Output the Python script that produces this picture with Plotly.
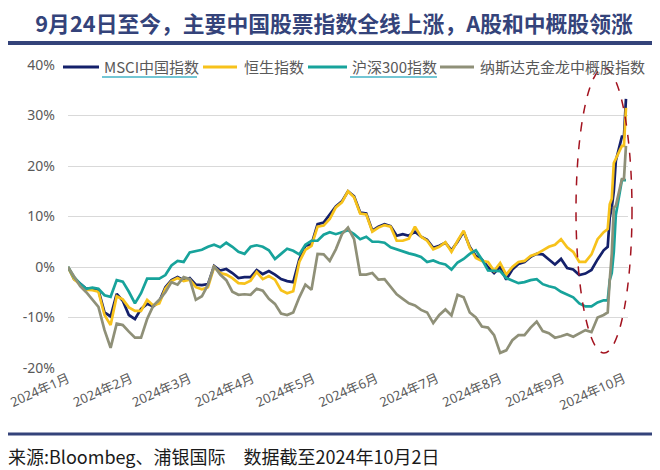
import plotly.graph_objects as go

# trading-day samples (YTD change, %)
dates = [
    "2024-01-01", "2024-01-04", "2024-01-07", "2024-01-10", "2024-01-13", "2024-01-16",
    "2024-01-19", "2024-01-22", "2024-01-25", "2024-01-28", "2024-01-31",
    "2024-02-03", "2024-02-06", "2024-02-09", "2024-02-12", "2024-02-15", "2024-02-18",
    "2024-02-21", "2024-02-24", "2024-02-27",
    "2024-03-01", "2024-03-04", "2024-03-07", "2024-03-10", "2024-03-13", "2024-03-16",
    "2024-03-19", "2024-03-22", "2024-03-25", "2024-03-28", "2024-03-31",
    "2024-04-03", "2024-04-06", "2024-04-09", "2024-04-12", "2024-04-15", "2024-04-18",
    "2024-04-21", "2024-04-24", "2024-04-27", "2024-04-30",
    "2024-05-03", "2024-05-06", "2024-05-09", "2024-05-12", "2024-05-15", "2024-05-18",
    "2024-05-21", "2024-05-24", "2024-05-27", "2024-05-30",
    "2024-06-02", "2024-06-05", "2024-06-08", "2024-06-11", "2024-06-14", "2024-06-17",
    "2024-06-20", "2024-06-23", "2024-06-26", "2024-06-29",
    "2024-07-02", "2024-07-05", "2024-07-08", "2024-07-11", "2024-07-14", "2024-07-17",
    "2024-07-20", "2024-07-23", "2024-07-26", "2024-07-29",
    "2024-08-01", "2024-08-04", "2024-08-07", "2024-08-10", "2024-08-13", "2024-08-16",
    "2024-08-19", "2024-08-22", "2024-08-25", "2024-08-28", "2024-08-31",
    "2024-09-03", "2024-09-06", "2024-09-09", "2024-09-12", "2024-09-15", "2024-09-18",
    "2024-09-21", "2024-09-23", "2024-09-24", "2024-09-25", "2024-09-26", "2024-09-27",
    "2024-09-30", "2024-10-01", "2024-10-02",
]

msci_china = [
    0, -2.4, -3.3, -4.3, -4.3, -4.6, -9.0, -9.8, -5.3, -6.7, -9.5,
    -10.3, -8.3, -7.3, -7.8, -6.8, -4.0, -2.6, -2.0, -2.6,
    -2.2, -3.5, -3.6, -3.4, 0.2, -0.7, -0.4, -1.2, -2.2, -2.0, -2.0,
    -0.6, -1.4, -0.8, -1.5, -2.4, -2.8, -3.0, 1.5, 4.2, 4.5,
    8.5, 8.8, 10.5, 12.0, 13.0, 15.0, 14.0, 10.8, 10.6, 7.2,
    8.0, 8.5, 8.1, 6.2, 6.5, 6.2, 7.0, 6.0, 5.4, 3.8,
    4.2, 4.8, 3.3, 5.0, 7.0, 4.0, 2.2, 1.5, 0.0, -1.2,
    0.0, -2.5, -0.5, 0.6, 1.0, 2.0, 2.6, 2.5, 1.5, 0.5, 1.6,
    -0.2, -0.5, -1.6, -1.3, -0.6, 1.5, 3.3,
    4.0, 9.8, 11.8, 15.0, 21.0, 25.8, 25.8, 33.3,
]

hang_seng = [
    0, -2.4, -3.5, -4.5, -4.6, -4.9, -9.5, -11.5, -5.8, -6.4, -8.0,
    -8.7, -8.7, -6.5, -7.6, -7.2, -4.3, -2.8, -2.2, -2.8,
    -2.5, -4.0, -4.4, -4.0, 0.0, -1.2, -1.5, -2.2, -3.2, -3.3, -2.7,
    -1.0, -2.4, -1.8, -2.5, -4.6, -5.2, -4.8, 1.0, 3.4, 4.2,
    8.0, 8.2, 9.5, 11.8, 12.8, 15.0, 13.8, 10.6, 10.4, 7.0,
    7.8, 8.3, 8.0, 5.2, 5.2, 5.6, 8.0, 6.0, 5.2, 3.5,
    4.0, 4.9, 3.0, 5.2, 7.2, 3.8, 1.8, 1.2, 1.0, -0.8,
    0.8, -1.5, 0.0, 1.0, 1.2, 2.2, 2.6, 3.3, 4.0, 4.4, 5.5,
    3.9, 3.0, 1.0, 1.0, 2.5, 5.5, 6.9,
    7.5, 12.4, 13.5, 20.6, 21.5, 24.0, 24.0, 31.5,
]

csi_300 = [
    0, -2.0, -3.3, -4.3, -4.1, -4.3, -5.6, -5.9, -2.6, -2.9, -4.9,
    -7.2, -5.2, -2.3, -2.3, -2.3, -1.6, 0.3, 1.2, 1.0,
    2.9, 3.1, 3.4, 4.0, 4.4, 3.9, 4.8, 4.0, 3.0, 2.6, 4.0,
    4.3, 4.0, 3.3, 1.6, 2.6, 3.6, 3.2, 2.5, 4.4, 5.2,
    5.2, 6.4, 6.9, 6.5, 6.9, 7.3, 6.5, 5.5, 6.0, 5.0,
    5.0, 4.8, 3.9, 3.5, 3.0, 2.7, 2.4, 2.0, 1.0, 1.3,
    0.8, 0.5, -0.5, 0.9, 1.6, 2.6, 3.3, 1.5, -0.7, -0.8,
    -0.8, -2.2, -2.7, -3.2, -3.0, -2.6, -2.4, -3.4, -3.8, -4.1, -4.9,
    -5.5, -6.0, -7.2, -7.8, -7.8, -7.0, -6.6,
    -6.6, -2.6, -1.2, 3.0, 10.3, 17.2, 17.2, 17.2,
]

nasdaq_golden_dragon = [
    0, -2.0, -3.8, -5.0, -6.5, -7.9, -12.5, -16.0, -11.2, -11.5, -12.8,
    -14.0, -14.0, -10.3, -7.7, -6.5, -5.0, -3.0, -3.5, -2.0,
    -2.4, -6.5, -5.8, -3.5, 0.2, -1.5, -2.6, -4.9, -5.5, -5.4, -5.5,
    -4.3, -4.7, -6.3, -7.3, -9.2, -9.5, -9.0, -6.0, -3.5, -4.5,
    2.6, 2.5, 1.2, 3.5, 6.5, 7.8, 5.5, -1.5, -1.5, -1.2,
    -2.5, -2.4, -4.0, -5.4, -6.3, -7.2, -7.6, -8.5, -9.0, -11.1,
    -9.5, -8.4, -9.6, -5.5, -6.0, -9.0, -10.0, -11.8, -12.0, -13.5,
    -17.0, -16.5, -14.5, -13.5, -13.5, -12.0, -10.8, -12.7, -13.1, -14.0, -13.7,
    -13.3, -13.8, -13.2, -12.5, -12.9, -10.0, -9.5,
    -9.0, -2.6, 2.6, 11.8, 12.1, 17.4, 17.4, 24.0,
]

series_names = ["MSCI中国指数", "恒生指数", "沪深300指数", "纳斯达克金龙中概股指数"]
series_colors = ["#14206b", "#f7c21b", "#17a39b", "#8f9078"]

month_ticks = ["2024-01-01", "2024-02-01", "2024-03-01", "2024-04-01", "2024-05-01",
               "2024-06-01", "2024-07-01", "2024-08-01", "2024-09-01", "2024-10-01"]
month_labels = ["2024年1月", "2024年2月", "2024年3月", "2024年4月", "2024年5月",
                "2024年6月", "2024年7月", "2024年8月", "2024年9月", "2024年10月"]
pct_ticks = [-20, -10, 0, 10, 20, 30, 40]
pct_labels = ["-20%", "-10%", "0%", "10%", "20%", "30%", "40%"]

title = "9月24日至今，主要中国股票指数全线上涨，A股和中概股领涨"
source = "来源:Bloombeg、浦银国际　数据截至2024年10月2日"

navy = "#34437a"

# page body has an 8px margin, so the figure is drawn 8px smaller and the
# helper functions below take positions in window pixels
OFF = 8
FW, FH = 660 - OFF, 470 - OFF
ML, MR, MT, MB = 60, 32, 57, 102
W, H = FW - ML - MR, FH - MT - MB


def px_x(p):
    return (p - OFF - ML) / W


def px_y(p):
    return (FH - MB - (p - OFF)) / H


fig = go.Figure()
for name, vals, col in zip(series_names,
                           [msci_china, hang_seng, csi_300, nasdaq_golden_dragon],
                           series_colors):
    fig.add_trace(go.Scatter(x=dates, y=vals, name=name, mode="lines", showlegend=False,
                             line=dict(color=col, width=2.7)))

fig.update_layout(
    width=FW, height=FH,
    margin=dict(l=ML, r=MR, t=MT, b=MB, autoexpand=False),
    paper_bgcolor="white", plot_bgcolor="white",
    font=dict(family="Noto Sans CJK SC", color="#595959"),
    title=dict(text=title, x=0.5, xref="container", y=1 - (24 - OFF) / FH, yref="container",
               yanchor="middle", xanchor="center",
               font=dict(size=21.8, color=navy, family="Noto Sans CJK SC", weight="bold")),
    xaxis=dict(type="date", range=["2024-01-01", "2024-10-03"],
               tickvals=month_ticks, ticktext=month_labels, tickangle=-24,
               ticklabelshift=0, ticklabeloverflow="allow", automargin=False,
               showgrid=False, zeroline=False, showline=False, ticks="",
               tickfont=dict(size=13, color="#595959", family="Noto Sans, Noto Sans CJK SC")),
    yaxis=dict(range=[-20, 40], tickvals=pct_ticks, ticktext=pct_labels,
               showgrid=True, gridcolor="#d9d9d9", gridwidth=1, zeroline=False,
               showline=False, ticks="", ticklabelstandoff=12, automargin=False,
               tickfont=dict(size=14, color="#595959", family="Noto Sans")),
)

# legend row: swatch start/end and text start, in window pixels
legend_swatch = [(63, 99), (203, 237), (308, 347), (440, 474)]
legend_text_x = [102, 242, 350, 478]
legend_y = 67

shapes = [
    # hide 40% gridline behind legend row
    dict(type="rect", xref="paper", yref="paper", x0=-0.01, x1=1.02,
         y0=px_y(72), y1=px_y(60), fillcolor="white", line=dict(width=0), layer="above"),
]
for (s0, s1), col in zip(legend_swatch, series_colors):
    shapes.append(dict(type="line", xref="paper", yref="paper", x0=px_x(s0), x1=px_x(s1),
                       y0=px_y(legend_y), y1=px_y(legend_y),
                       line=dict(color=col, width=3), layer="above"))
shapes += [
    # underlines under two legend labels
    dict(type="line", xref="paper", yref="paper", x0=px_x(102), x1=px_x(197),
         y0=px_y(77), y1=px_y(77), line=dict(color="#45b3c6", width=1.5), layer="above"),
    dict(type="line", xref="paper", yref="paper", x0=px_x(350), x1=px_x(437),
         y0=px_y(77), y1=px_y(77), line=dict(color="#45b3c6", width=1.5), layer="above"),
    # highlight ellipse
    dict(type="circle", xref="paper", yref="paper", x0=px_x(576), x1=px_x(632),
         y0=px_y(353), y1=px_y(68), line=dict(color="#a3131f", width=1.5, dash="dash"),
         layer="above"),
    # title rule and footer rule
    dict(type="line", xref="paper", yref="paper", x0=px_x(0), x1=px_x(660),
         y0=px_y(43), y1=px_y(43), line=dict(color=navy, width=4)),
    dict(type="line", xref="paper", yref="paper", x0=px_x(0), x1=px_x(660),
         y0=px_y(434), y1=px_y(434), line=dict(color=navy, width=3)),
]
fig.update_layout(shapes=shapes)

for name, tx in zip(series_names, legend_text_x):
    fig.add_annotation(text=name, xref="paper", yref="paper", x=px_x(tx), y=px_y(legend_y),
                       xanchor="left", yanchor="middle", showarrow=False,
                       font=dict(size=15, color="#595959", family="Noto Sans CJK SC"))

fig.add_annotation(text=source, xref="paper", yref="paper", x=px_x(6), y=px_y(456),
                   xanchor="left", yanchor="middle", showarrow=False,
                   font=dict(size=18, color="#1a1a1a", family="Noto Sans CJK SC"))

fig.write_html("out.html")
